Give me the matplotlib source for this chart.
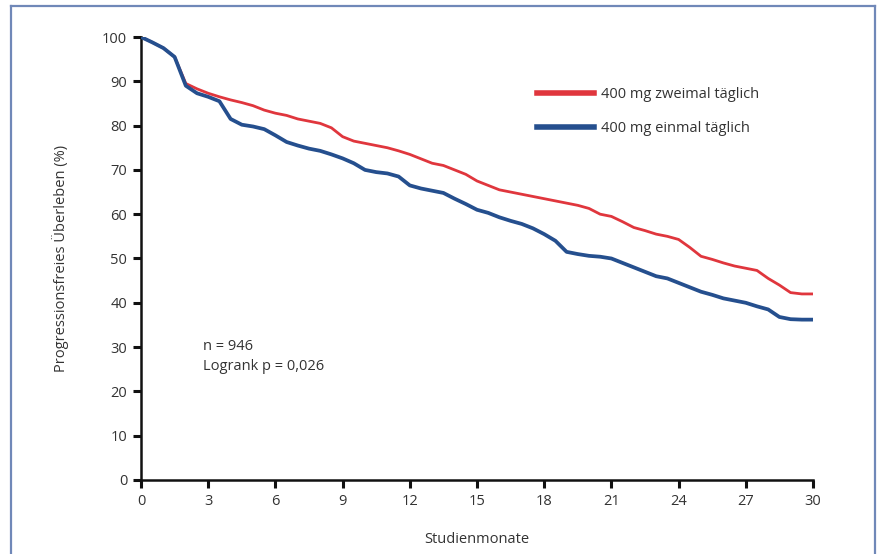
import matplotlib
matplotlib.use("Agg")
import matplotlib.pyplot as plt
from matplotlib.lines import Line2D
import numpy as np

plt.rcParams['font.family'] = ['Open Sans', 'DejaVu Sans']

months = [i * 0.5 for i in range(61)]

blue_vals = [100, 98.8, 97.5, 95.5, 89, 87.3, 86.5, 85.5, 81.5, 80.2,
             79.8, 79.2, 77.8, 76.3, 75.5, 74.8, 74.3, 73.5, 72.6, 71.5,
             70, 69.5, 69.2, 68.5, 66.5, 65.8, 65.3, 64.8, 63.5, 62.3,
             61, 60.3, 59.3, 58.5, 57.8, 56.8, 55.5, 54, 51.5, 51,
             50.6, 50.4, 50, 49, 48, 47, 46, 45.5, 44.5, 43.5,
             42.5, 41.8, 41, 40.5, 40, 39.2, 38.5, 36.8, 36.3, 36.2, 36.2]

red_vals = [100, 98.8, 97.5, 95.5, 89.5, 88.3, 87.3, 86.5, 85.8, 85.2,
            84.5, 83.5, 82.8, 82.3, 81.5, 81, 80.5, 79.5, 77.5, 76.5,
            76, 75.5, 75, 74.3, 73.5, 72.5, 71.5, 71, 70, 69,
            67.5, 66.5, 65.5, 65, 64.5, 64, 63.5, 63, 62.5, 62,
            61.3, 60, 59.5, 58.3, 57, 56.3, 55.5, 55, 54.3, 52.5,
            50.5, 49.8, 49, 48.3, 47.8, 47.3, 45.5, 44, 42.3, 42, 42]

labels = ["400 mg zweimal täglich", "400 mg einmal täglich"]
x_ticks = list(range(0, 31, 3))
y_ticks = list(range(0, 101, 10))
annotation = "n = 946\nLogrank p = 0,026"

RED = "#e0363d"
BLUE = "#254f8e"

fig = plt.figure(figsize=(8.77, 5.54), dpi=100)
ax = fig.add_axes([0.1608, 0.1336, 0.7662, 0.7996])

ax.plot(months, red_vals, color=RED, lw=2.0, zorder=2, solid_joinstyle='round')
ax.plot(months, blue_vals, color=BLUE, lw=2.7, zorder=3, solid_joinstyle='round')

ax.set_xlim(0, 30)
ax.set_ylim(0, 100)
ax.set_xticks(x_ticks)
ax.set_yticks(y_ticks)
for s in ['top', 'right']:
    ax.spines[s].set_visible(False)
for s in ['left', 'bottom']:
    ax.spines[s].set_linewidth(1.8)
    ax.spines[s].set_color('#111111')
ax.tick_params(axis='both', length=6, width=2.2, color='#111111',
               labelsize=10.5, labelcolor='#333333', pad=4)
ax.set_xlabel("Studienmonate", fontsize=10.5, color='#333333', labelpad=17)
ax.set_ylabel("Progressionsfreies Überleben (%)", fontsize=10.5, color='#333333', labelpad=24)

ax.text(2.75, 27.8, annotation, fontsize=10.5, color='#333333',
        va='center', ha='left', linespacing=1.45)

handles = [Line2D([0], [0], color=RED, lw=4.0),
           Line2D([0], [0], color=BLUE, lw=4.0)]
leg = ax.legend(handles, labels, loc='upper left', bbox_to_anchor=(0.59, 0.888),
                frameon=False, fontsize=10.5, handlelength=3.9, handletextpad=0.45,
                labelspacing=1.35, borderpad=0, borderaxespad=0)
for t in leg.get_texts():
    t.set_color('#333333')

# outer frame (left, top, right)
fc = '#7088b8'
fig.add_artist(Line2D([11/877, 11/877], [0, 1 - 6/554], transform=fig.transFigure, color=fc, lw=1.6))
fig.add_artist(Line2D([11/877, 875/877], [1 - 6/554, 1 - 6/554], transform=fig.transFigure, color=fc, lw=1.6))
fig.add_artist(Line2D([875/877, 875/877], [0, 1 - 6/554], transform=fig.transFigure, color=fc, lw=1.6))

fig.savefig("out.png", dpi=100)
